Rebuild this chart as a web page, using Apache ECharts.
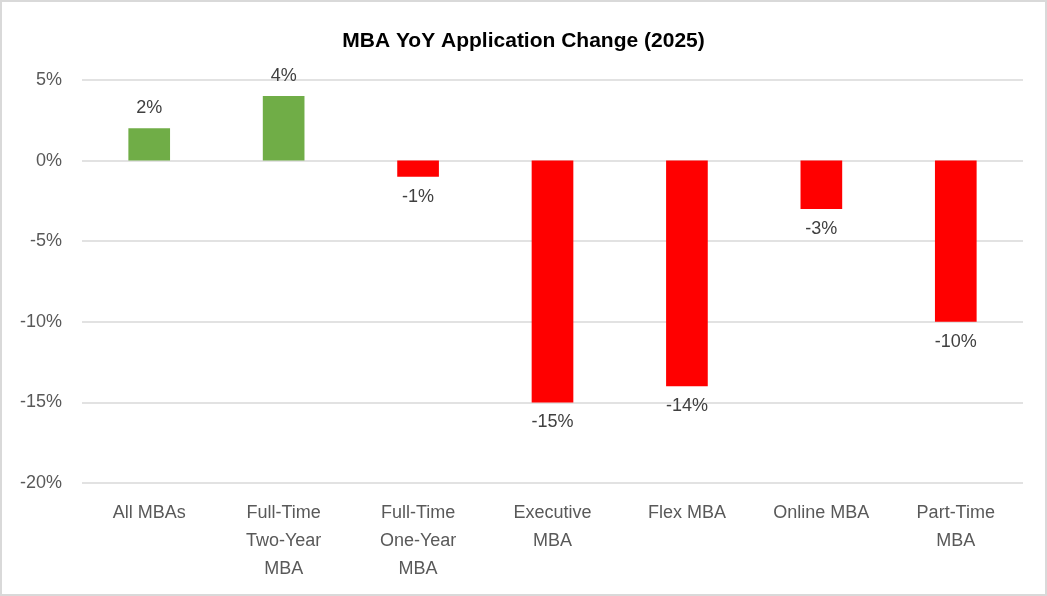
<!DOCTYPE html>
<html>
<head>
<meta charset="utf-8">
<script src="https://cdn.jsdelivr.net/npm/echarts@6/dist/echarts.min.js"></script>
<style>
html, body { margin: 0; padding: 0; background: #fff; }
#chart { width: 1047px; height: 596px; box-sizing: border-box; border: 2px solid #d9d9d9; }
</style>
</head>
<body>
<div id="chart"></div>
<script>
// 分类与数值
var categories = ['All MBAs', 'Full-Time\nTwo-Year\nMBA', 'Full-Time\nOne-Year\nMBA', 'Executive\nMBA', 'Flex MBA', 'Online MBA', 'Part-Time\nMBA'];
var values = [2, 4, -1, -15, -14, -3, -10];
var yTicks = [-20, -15, -10, -5, 0, 5];

var font = '"Liberation Sans", "Open Sans", sans-serif';

var barData = [];
for (var i = 0; i < values.length; i++) {
	var v = values[i];
	barData.push({
		value: v,
		itemStyle: { color: v >= 0 ? '#70AD47' : '#FF0000' },
		label: { position: v >= 0 ? 'top' : 'bottom' }
	});
}

var option = {
	animation: false,
	title: {
		text: 'MBA YoY Application Change (2025)',
		left: 'center',
		top: 24,
		textStyle: { fontFamily: font, fontSize: 21, fontWeight: 'bold', color: '#000' }
	},
	grid: { left: 80, right: 22, top: 78, bottom: 111 },
	xAxis: {
		type: 'category',
		data: categories,
		axisLine: { show: false },
		axisTick: { show: false },
		axisLabel: {
			margin: 16,
			interval: 0,
			fontFamily: font,
			fontSize: 18,
			lineHeight: 28,
			color: '#595959'
		}
	},
	yAxis: {
		type: 'value',
		min: yTicks[0],
		max: yTicks[yTicks.length - 1],
		interval: 5,
		axisLine: { show: false },
		axisTick: { show: false },
		axisLabel: {
			margin: 20,
			fontFamily: font,
			fontSize: 18,
			color: '#595959',
			formatter: function (v) { return v + '%'; }
		},
		splitLine: { lineStyle: { color: '#d9d9d9', width: 1.5 } }
	},
	series: [{
		type: 'bar',
		barWidth: '31%',
		data: barData,
		label: {
			show: true,
			distance: 11,
			fontFamily: font,
			fontSize: 18,
			color: '#404040',
			formatter: function (p) { return p.value + '%'; }
		}
	}]
};

var chart = echarts.init(document.getElementById('chart'));
chart.setOption(option);
</script>
</body>
</html>
